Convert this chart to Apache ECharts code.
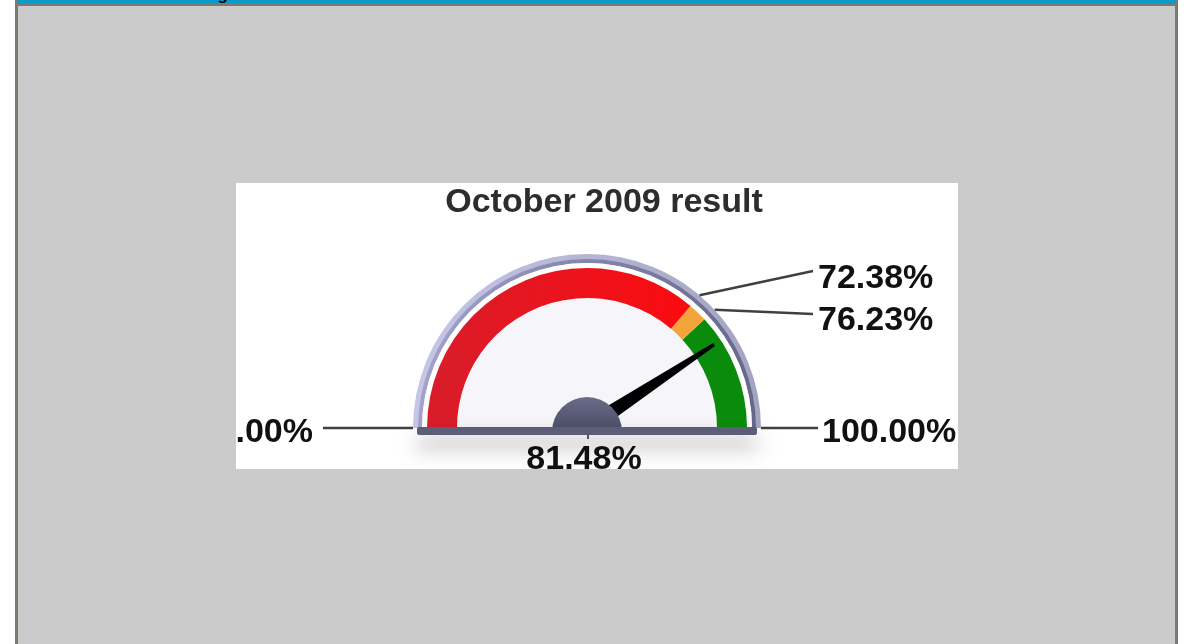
<!DOCTYPE html>
<html>
<head>
<meta charset="utf-8">
<title>October 2009 result</title>
<script src="https://cdn.jsdelivr.net/npm/echarts@6/dist/echarts.min.js"></script>
<style>
  body { margin: 0; width: 1198px; height: 644px; background: #fff; position: relative; overflow: hidden; font-family: "Liberation Sans", Arial, sans-serif; }
  .bx { position: absolute; }
  #panel { left: 18px; top: 6px; width: 1157px; height: 638px; background: #cbcbcb; }
  #lborder { left: 15px; top: 0; width: 3px; height: 644px; background: #7b7a6f; }
  #rborder { left: 1175px; top: 0; width: 3px; height: 644px; background: #7b7a6f; }
  #bluebar { left: 18px; top: 0; width: 1157px; height: 3px; background: #0a9bcb; overflow: hidden; }
  #bluebar span { position: absolute; left: 19px; top: -13px; font: bold 17px/16px "Liberation Sans", Arial, sans-serif; color: #000; white-space: nowrap; }
  #grayline { left: 18px; top: 3px; width: 1157px; height: 3px; background: #7b7a6f; }
  #chart { left: 236px; top: 183px; width: 722px; height: 286px; background: #fff; }
</style>
</head>
<body>
<div class="bx" id="panel"></div>
<div class="bx" id="lborder"></div>
<div class="bx" id="rborder"></div>
<div class="bx" id="bluebar"><span>Performance Percentage</span></div>
<div class="bx" id="grayline"></div>
<div class="bx" id="chart"></div>
<script>
// data
var chartTitle = 'October 2009 result';
var gaugeMin = 0;
var gaugeMax = 100;
var thresholds = [72.38, 76.23];          // red -> orange -> green
var actualValue = 81.48;
var tickLabels = [0, 72.38, 76.23, 100];   // values shown with leader lines

// layout (pixels inside the white box)
var CX = 351, CY = 245;
var BAND_R = 160, BAND_W = 30;
// where each leader line ends and where its text sits
var lineEnds = [[87, 245], [577, 88], [577, 131], [582, 245]];
var textAnchors = [[77, 250, 'right'], [582, 96, 'left'], [582, 138, 'left'], [586, 250, 'left']];
var LABEL_FONT = 'bold 34px "Liberation Sans", Arial, sans-serif';

var bandColors = [
  new echarts.graphic.LinearGradient(0, 0, 1, 0, [
    { offset: 0, color: '#d81d2b' }, { offset: 1, color: '#fb0b0f' }
  ]),
  '#f3a53b',
  '#0b8b0b'
];

function pct(v) { return v.toFixed(2) + '%'; }

// point on the gauge arc for a value
function polar(v, r) {
  var a = Math.PI * (1 - (v - gaugeMin) / (gaugeMax - gaugeMin));
  return [CX + r * Math.cos(a), CY - r * Math.sin(a)];
}

var bandStops = [];
for (var i = 0; i < thresholds.length; i++) {
  bandStops.push([(thresholds[i] - gaugeMin) / (gaugeMax - gaugeMin), bandColors[i]]);
}
bandStops.push([1, bandColors[bandColors.length - 1]]);

var hidden = {
  splitLine: { show: false },
  axisTick: { show: false },
  axisLabel: { show: false },
  pointer: { show: false },
  anchor: { show: false },
  title: { show: false },
  detail: { show: false }
};

function plainGauge(center, radius, width, color, z) {
  return Object.assign({
    type: 'gauge',
    center: center,
    radius: radius,
    startAngle: 180,
    endAngle: 0,
    min: gaugeMin,
    max: gaugeMax,
    z: z,
    silent: true,
    axisLine: { lineStyle: { width: width, color: [[1, color]] } },
    data: [{ value: gaugeMin }]
  }, hidden);
}

var graphics = [];
// base bar under the dial
graphics.push({
  type: 'rect',
  z: 20,
  shape: { x: CX - 170, y: CY - 1, width: 340, height: 8, r: 2 },
  style: {
    fill: '#5b5d79',
    shadowBlur: 20,
    shadowOffsetY: 12,
    shadowColor: 'rgba(0,0,0,0.35)'
  }
});
// small tick under the hub
graphics.push({
  type: 'line', z: 21,
  shape: { x1: CX + 1, y1: CY + 6, x2: CX + 1, y2: CY + 11 },
  style: { stroke: '#555', lineWidth: 2 }
});

tickLabels.forEach(function (v, k) {
  var p = polar(v, 174);
  graphics.push({
    type: 'line',
    z: 15,
    shape: { x1: p[0], y1: p[1], x2: lineEnds[k][0], y2: lineEnds[k][1] },
    style: { stroke: '#404040', lineWidth: 2.5 }
  });
  graphics.push({
    type: 'text',
    z: 15,
    x: textAnchors[k][0],
    y: textAnchors[k][1],
    style: {
      text: pct(v),
      font: LABEL_FONT,
      fill: '#111',
      align: textAnchors[k][2],
      verticalAlign: 'middle'
    }
  });
});

var chart = echarts.init(document.getElementById('chart'));
chart.setOption({
  animation: false,
  backgroundColor: '#fff',
  title: {
    text: chartTitle,
    left: 363,
    top: -2,
    textAlign: 'center',
    textStyle: { color: '#2d2d2d', fontSize: 34, fontWeight: 'bold', fontFamily: 'Liberation Sans' }
  },
  graphic: graphics,
  series: [
    // dial face
    plainGauge([CX, CY], 170, 170, '#f5f5fa', 1),
    // outer bezel glow
    plainGauge([CX, CY], 174, 8, new echarts.graphic.LinearGradient(0, 0, 1, 0, [
      { offset: 0, color: '#c6c6e6' }, { offset: 1, color: '#a3a4c2' }
    ]), 2),
    // bezel line
    plainGauge([CX, CY], 169, 4, new echarts.graphic.LinearGradient(0, 0, 1, 0, [
      { offset: 0, color: '#a2a2cc' }, { offset: 1, color: '#66688a' }
    ]), 3),
    // white gap between bezel and band
    plainGauge([CX, CY], 165, 6, '#ffffff', 3),
    // coloured band, needle and value
    {
      type: 'gauge',
      center: [CX, CY],
      radius: BAND_R,
      startAngle: 180,
      endAngle: 0,
      min: gaugeMin,
      max: gaugeMax,
      z: 4,
      axisLine: { lineStyle: { width: BAND_W, color: bandStops } },
      splitLine: { show: false },
      axisTick: { show: false },
      axisLabel: { show: false },
      anchor: { show: false },
      title: { show: false },
      pointer: {
        icon: 'path://M1.6,0 L2.4,0 L4,40 L0,40 Z',
        length: 152,
        width: 17,
        itemStyle: { color: '#000' }
      },
      detail: {
        offsetCenter: [-3, 32],
        formatter: function (v) { return pct(v); },
        color: '#111',
        fontSize: 34,
        fontWeight: 'bold',
        fontFamily: 'Liberation Sans'
      },
      data: [{ value: actualValue }]
    },
    // hub
    plainGauge([CX, CY + 4], 35, 35, new echarts.graphic.LinearGradient(0, 0, 0, 1, [
      { offset: 0, color: '#6a6c88' }, { offset: 1, color: '#4a4c66' }
    ]), 5)
  ]
});
</script>
</body>
</html>
